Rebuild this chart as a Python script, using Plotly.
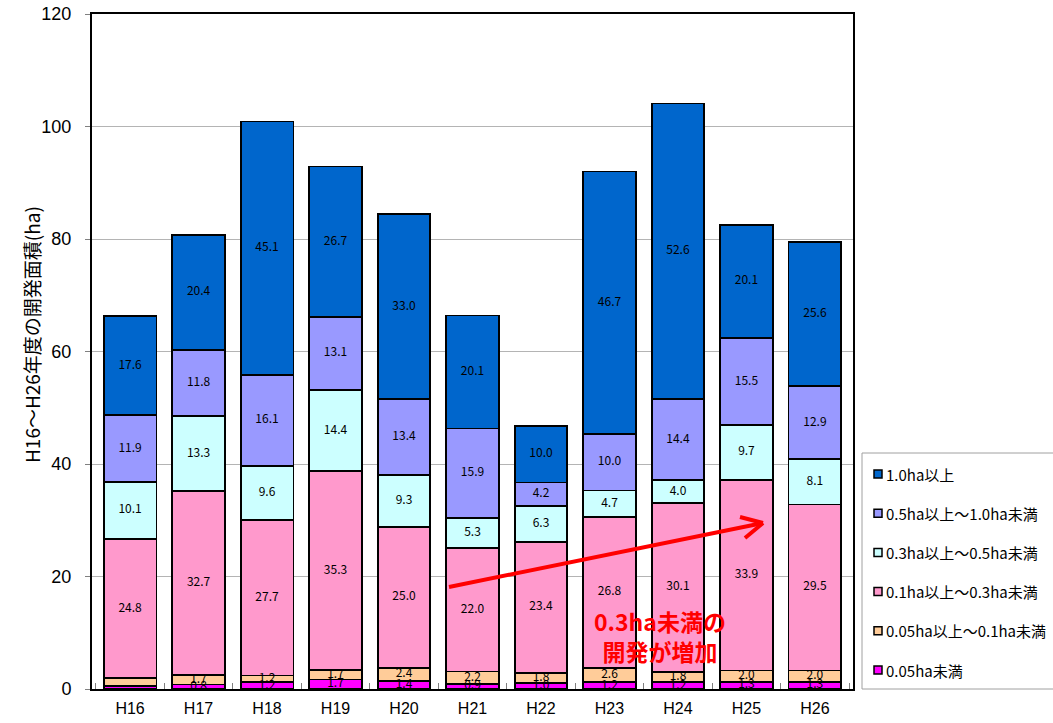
import plotly.graph_objects as go

# Fiscal years
years = ["H16", "H17", "H18", "H19", "H20", "H21", "H22", "H23", "H24", "H25", "H26"]

# Development area (ha) by lot-size class, stacked from the bottom
under_005 = [0.5, 0.8, 1.2, 1.7, 1.4, 0.9, 1.0, 1.2, 1.2, 1.3, 1.3]
from_005_to_01 = [1.4, 1.7, 1.2, 1.7, 2.4, 2.2, 1.8, 2.6, 1.8, 2.0, 2.0]
from_01_to_03 = [24.8, 32.7, 27.7, 35.3, 25.0, 22.0, 23.4, 26.8, 30.1, 33.9, 29.5]
from_03_to_05 = [10.1, 13.3, 9.6, 14.4, 9.3, 5.3, 6.3, 4.7, 4.0, 9.7, 8.1]
from_05_to_10 = [11.9, 11.8, 16.1, 13.1, 13.4, 15.9, 4.2, 10.0, 14.4, 15.5, 12.9]
over_10 = [17.6, 20.4, 45.1, 26.7, 33.0, 20.1, 10.0, 46.7, 52.6, 20.1, 25.6]

# (name, values, colour, label the first year too)
series = [
    ("0.05ha未満", under_005, "#FF00FF", False),
    ("0.05ha以上～0.1ha未満", from_005_to_01, "#FFCC99", False),
    ("0.1ha以上～0.3ha未満", from_01_to_03, "#FF99CC", True),
    ("0.3ha以上～0.5ha未満", from_03_to_05, "#CCFFFF", True),
    ("0.5ha以上～1.0ha未満", from_05_to_10, "#9999FF", True),
    ("1.0ha以上", over_10, "#0066CC", True),
]

JP = "Noto Sans CJK JP, sans-serif"
LAT = "Liberation Sans, Arial, sans-serif"
fig = go.Figure()

base = [0.0] * len(years)
for name, vals, color, label_first in series:
    fig.add_trace(go.Bar(
        x=years, y=vals, name=name, showlegend=False,
        marker=dict(color=color, line=dict(color="black", width=1.8)),
        hoverinfo="skip",
    ))
    mids = [b + v / 2 for b, v in zip(base, vals)]
    labels = [f"{v:.1f}" if (label_first or k > 0) else "" for k, v in enumerate(vals)]
    fig.add_trace(go.Scatter(
        x=years, y=mids, mode="text", text=labels,
        textfont=dict(family=JP, size=12, color="black"),
        showlegend=False, hoverinfo="skip", cliponaxis=False,
    ))
    base = [b + v for b, v in zip(base, vals)]

# Plot-area geometry in pixels, used to place arrow, notes and legend box
X0, Y0, W, H = 92, 689, 761, 675


def px(x):
    return (x - X0) / W


def py(y):
    return (Y0 - y) / H


# Trend arrow with an open head
arrow = dict(type="line", xref="paper", yref="paper",
             line=dict(color="#FF0000", width=4))
fig.add_shape(x0=px(449), y0=py(587), x1=px(763), y1=py(523), **arrow)
fig.add_shape(x0=px(740), y0=py(517), x1=px(763), y1=py(523), **arrow)
fig.add_shape(x0=px(745), y0=py(538), x1=px(763), y1=py(523), **arrow)

fig.add_annotation(
    xref="paper", yref="paper", x=px(660), y=py(636),
    text="<b>0.3ha未満の<br>開発が増加</b>", showarrow=False,
    font=dict(family=JP, size=23, color="#FF0000"),
    align="center", xanchor="center", yanchor="middle",
)

# Y-axis title
fig.add_annotation(
    xref="paper", yref="paper", x=px(32), y=py(335),
    text="H16～H26年度の開発面積(ha)", textangle=-90, showarrow=False,
    font=dict(family=JP, size=19, color="black"),
    xanchor="center", yanchor="middle",
)

# Legend box: top entry is the top of the stack
fig.add_shape(type="rect", xref="paper", yref="paper",
              x0=px(862), x1=px(1070), y0=py(689), y1=py(453),
              line=dict(color="#A0A0A0", width=1), fillcolor="white")
for row, (name, _, color, _) in enumerate(reversed(series)):
    yc = 474 + row * 39.2
    fig.add_shape(type="rect", xref="paper", yref="paper",
                  x0=px(874), x1=px(882), y0=py(yc + 4), y1=py(yc - 4),
                  line=dict(color="black", width=1.5), fillcolor=color)
    fig.add_annotation(xref="paper", yref="paper", x=px(884), y=py(yc),
                       text=name, showarrow=False, xanchor="left", yanchor="middle",
                       font=dict(family=JP, size=15, color="black"))

fig.update_layout(
    width=1053, height=723,
    margin=dict(l=92, r=200, t=14, b=34, autoexpand=False),
    paper_bgcolor="white", plot_bgcolor="white",
    barmode="stack", bargap=0.23,
    font=dict(family=LAT, color="black"),
    showlegend=False,
    xaxis=dict(
        showline=True, linecolor="black", linewidth=2, mirror=True,
        ticks="inside", tickson="boundaries", ticklen=6, tickcolor="#808080",
        ticklabelstandoff=4,
        tickfont=dict(size=16, family=LAT),
    ),
    yaxis=dict(
        range=[0, 120], dtick=20,
        showline=True, linecolor="black", linewidth=2, mirror=True,
        showgrid=True, gridcolor="#B4B4B4", gridwidth=1,
        ticks="outside", ticklen=5, tickcolor="#808080",
        ticklabelstandoff=10,
        tickfont=dict(size=18, family=LAT),
    ),
)

fig.write_html("out.html")
